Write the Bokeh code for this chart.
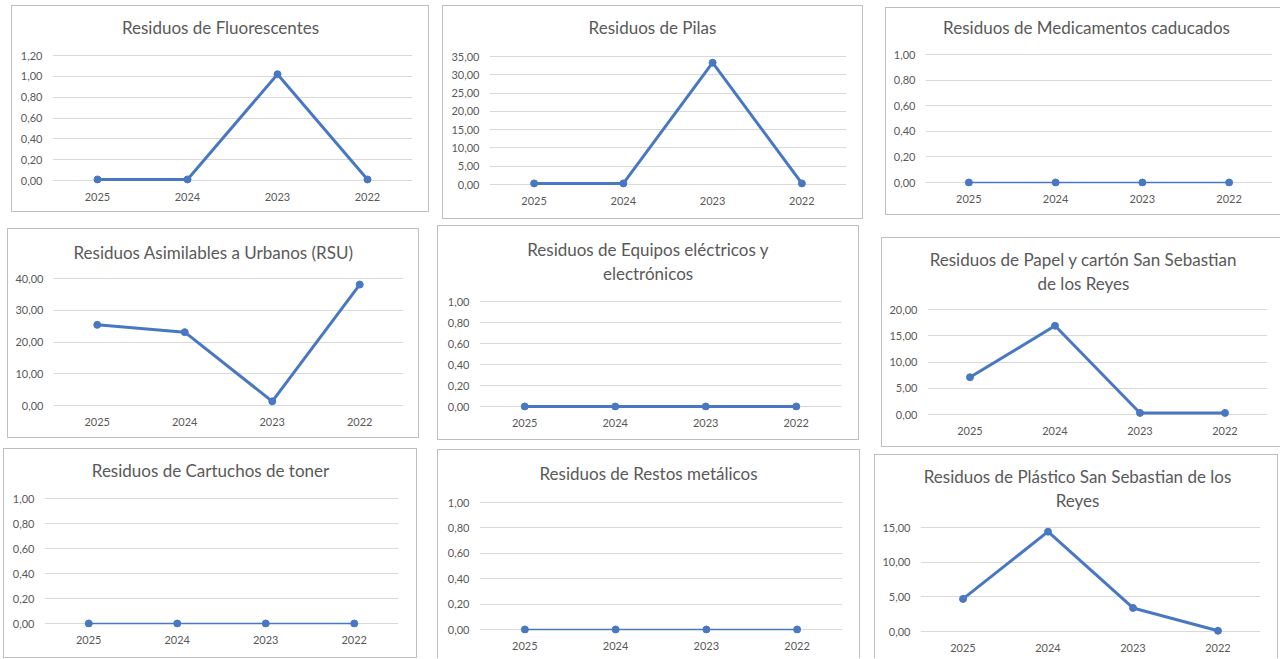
from bokeh.plotting import figure
from bokeh.models import FactorRange, Range1d, FixedTicker, Label, Spacer
from bokeh.layouts import row, column
from bokeh.embed import file_html
from bokeh.resources import INLINE

# ---------------- data ----------------
years = ["2025", "2024", "2023", "2022"]

fluorescentes = [0.01, 0.01, 1.02, 0.01]
pilas = [0.3, 0.3, 33.3, 0.3]
medicamentos = [0.0, 0.0, 0.0, 0.0]
rsu = [25.4, 23.1, 1.3, 38.1]
equipos = [0.0, 0.0, 0.0, 0.0]
papel = [7.1, 16.9, 0.3, 0.3]
cartuchos = [0.0, 0.0, 0.0, 0.0]
metalicos = [0.0, 0.0, 0.0, 0.0]
plastico = [4.7, 14.4, 3.4, 0.1]

ticks_01 = [0.0, 0.2, 0.4, 0.6, 0.8, 1.0]
labels_01 = ["0,00", "0,20", "0,40", "0,60", "0,80", "1,00"]
ticks_012 = [0.0, 0.2, 0.4, 0.6, 0.8, 1.0, 1.2]
labels_012 = ["0,00", "0,20", "0,40", "0,60", "0,80", "1,00", "1,20"]
ticks_35 = [0, 5, 10, 15, 20, 25, 30, 35]
labels_35 = ["0,00", "5,00", "10,00", "15,00", "20,00", "25,00", "30,00", "35,00"]
ticks_40 = [0, 10, 20, 30, 40]
labels_40 = ["0,00", "10,00", "20,00", "30,00", "40,00"]
ticks_20 = [0, 5, 10, 15, 20]
labels_20 = ["0,00", "5,00", "10,00", "15,00", "20,00"]
ticks_15 = [0, 5, 10, 15]
labels_15 = ["0,00", "5,00", "10,00", "15,00"]

title_fluor = "Residuos de Fluorescentes"
title_pilas = "Residuos de Pilas"
title_medic = "Residuos de Medicamentos caducados"
title_rsu = "Residuos Asimilables a Urbanos (RSU)"
title_equip = "Residuos de Equipos eléctricos y\nelectrónicos"
title_papel = "Residuos de Papel y cartón San Sebastian\nde los Reyes"
title_cart = "Residuos de Cartuchos de toner"
title_metal = "Residuos de Restos metálicos"
title_plast = "Residuos de Plástico San Sebastian de los\nReyes"

BLUE = "#4878c2"
GREY_TXT = "#595959"
GRID = "#d9d9d9"
BORDER = "#bfbfbf"
FONT = "Lato"


def panel(title, vals, ticks, labels, geo, lw=3.0, edges="trbl"):
    # geo: page-space layout of the panel (x0, y0, x1, y1, plot-area left/right,
    # y of top gridline, y of zero line, title centre x, title centre y)
    x0, y0, x1, y1, fl, fr, ft, fz, tx, ty = geo
    ymax = ticks[-1]
    ppu = (fz - ft) / ymax
    pad_bot = 4.0
    W = x1 - x0
    H = y1 - y0
    y_top = ymax + (ft - (y0 + 1)) / ppu
    shadows = []
    if "t" in edges:
        shadows.append(f"inset 0 1px 0 0 {BORDER}")
    if "b" in edges:
        shadows.append(f"inset 0 -1px 0 0 {BORDER}")
    if "l" in edges:
        shadows.append(f"inset 1px 0 0 0 {BORDER}")
    if "r" in edges:
        shadows.append(f"inset -1px 0 0 0 {BORDER}")
    p = figure(width=W, height=H, x_range=FactorRange(*years),
               y_range=Range1d(-pad_bot / ppu, y_top),
               output_backend="svg", toolbar_location=None, tools="",
               min_border_left=fl - x0, min_border_right=x1 - fr,
               min_border_top=1,
               min_border_bottom=int(round(y1 - (fz + pad_bot))),
               styles={"box-shadow": ", ".join(shadows)})
    p.title.visible = False
    p.outline_line_color = None
    p.background_fill_color = None
    p.border_fill_color = None
    p.xgrid.grid_line_color = None
    p.ygrid.grid_line_color = GRID
    p.ygrid.grid_line_width = 1
    p.yaxis.ticker = FixedTicker(ticks=ticks)
    p.yaxis.major_label_overrides = {t: l for t, l in zip(ticks, labels)}
    for ax in (p.xaxis[0], p.yaxis[0]):
        ax.axis_line_color = None
        ax.major_tick_line_color = None
        ax.minor_tick_line_color = None
        ax.major_tick_out = 0
        ax.major_tick_in = 0
        ax.minor_tick_out = 0
        ax.minor_tick_in = 0
        ax.major_label_text_font = FONT
        ax.major_label_text_font_size = "11px"
        ax.major_label_text_color = GREY_TXT
    p.xaxis.major_label_standoff = 8
    p.yaxis.major_label_standoff = 10

    p.line(years, vals, line_color=BLUE, line_width=lw)
    p.scatter(years, vals, size=7, fill_color=BLUE, line_color=BLUE)

    lx = (tx - fl) / (fr - fl) * len(years)
    ly = ymax + (ft - ty) / ppu
    p.add_layout(Label(x=lx, y=ly, text=title, text_align="center",
                       text_baseline="middle", text_font=FONT,
                       text_font_size="17px", text_color=GREY_TXT,
                       text_line_height=1.12))
    return p


p1 = panel(title_fluor, fluorescentes, ticks_012, labels_012,
           (11, 5, 429, 212, 52, 412, 55, 180, 220, 27))
p4 = panel(title_rsu, rsu, ticks_40, labels_40,
           (7, 228, 419, 438, 53, 403, 278, 405, 213, 252))
p7 = panel(title_cart, cartuchos, ticks_01, labels_01,
           (3, 448, 417, 658, 44, 398, 498, 623, 210, 470), lw=1.5)

p2 = panel(title_pilas, pilas, ticks_35, labels_35,
           (442, 5, 863, 219, 489, 846, 56, 184, 652, 27))
p5 = panel(title_equip, equipos, ticks_01, labels_01,
           (437, 225, 859, 440, 479, 842, 301, 406, 648, 261))
p8 = panel(title_metal, metalicos, ticks_01, labels_01,
           (437, 449, 860, 658, 479, 842, 502, 629, 648, 473), lw=1.5,
           edges="trl")

p3 = panel(title_medic, medicamentos, ticks_01, labels_01,
           (885, 7, 1280, 215, 925, 1272, 54, 182, 1086, 27), lw=1.5,
           edges="tbl")
p6 = panel(title_papel, papel, ticks_20, labels_20,
           (881, 237, 1280, 447, 927, 1267, 309, 414, 1083, 271),
           edges="tbl")
p9 = panel(title_plast, plastico, ticks_15, labels_15,
           (874, 454, 1278, 658, 920, 1260, 527, 631, 1077, 488),
           edges="trl")

col1 = column(Spacer(width=10, height=5),
              row(Spacer(width=11, height=207), p1),
              Spacer(width=10, height=16),
              row(Spacer(width=7, height=210), p4),
              Spacer(width=10, height=10),
              row(Spacer(width=3, height=210), p7))
col2 = column(Spacer(width=10, height=5),
              row(Spacer(width=5, height=214), p2),
              Spacer(width=10, height=6), p5,
              Spacer(width=10, height=9), p8)
col3 = column(Spacer(width=10, height=7),
              row(Spacer(width=11, height=208), p3),
              Spacer(width=10, height=22),
              row(Spacer(width=7, height=210), p6),
              Spacer(width=10, height=7), p9)

layout = row(col1, Spacer(width=8, height=658), col2, Spacer(width=11, height=658), col3)

open("out.html", "w").write(file_html(layout, INLINE))
